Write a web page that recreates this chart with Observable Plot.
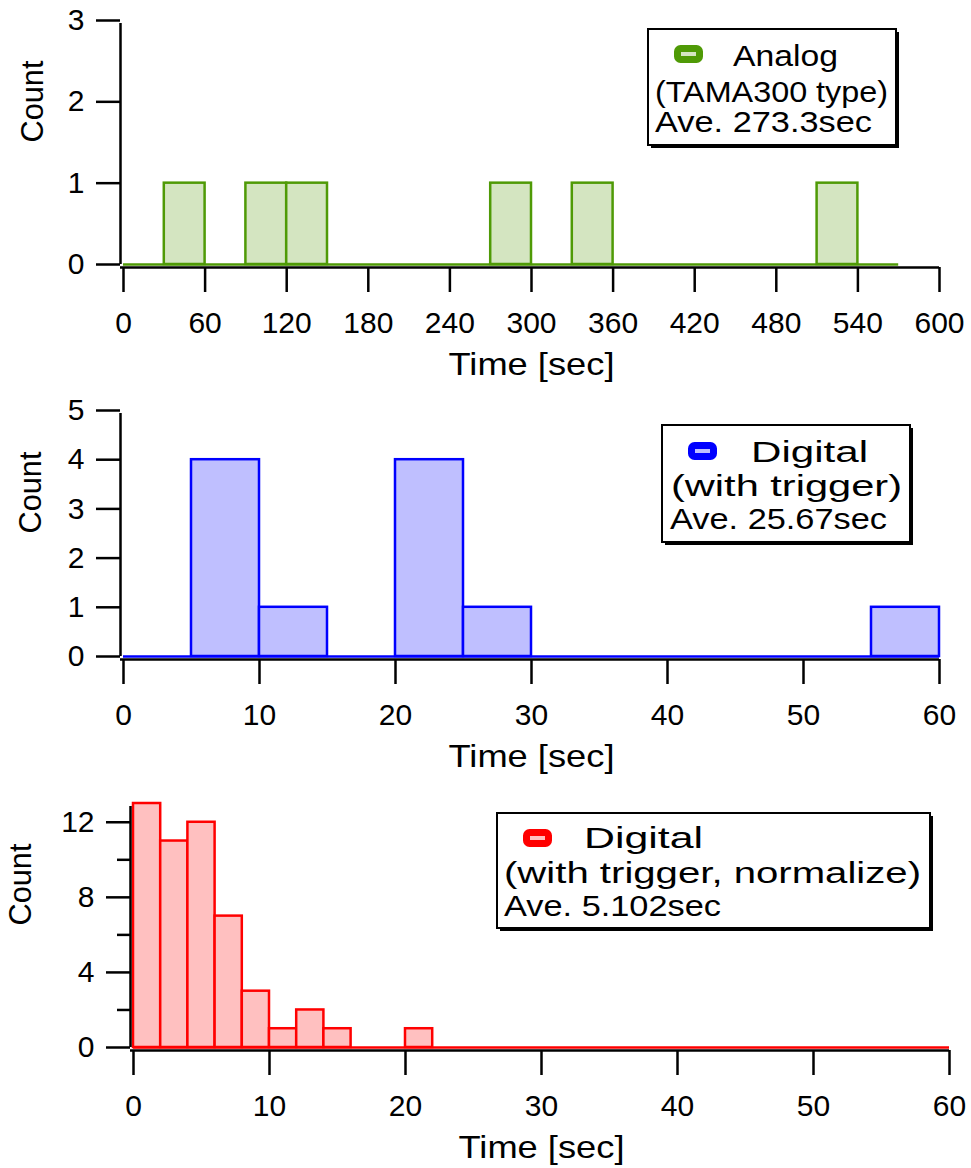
<!DOCTYPE html>
<html><head><meta charset="utf-8">
<script src="https://cdn.jsdelivr.net/npm/d3@7"></script>
<script src="https://cdn.jsdelivr.net/npm/@observablehq/plot@0.6"></script>
<style>
body{margin:0;background:#fff;}
#wrap{position:relative;width:971px;height:1168px;overflow:hidden;}
#wrap svg{display:block;}
#legend{position:absolute;left:0;top:0;}
</style></head><body><div id="wrap"></div>
<script>
// ---------- DATA ----------
// Panel 1: Analog (TAMA300 type), bins of 30 s
const analogEdges  = [0,30,60,90,120,150,180,210,240,270,300,330,360,390,420,450,480,510,540,570];
const analogCounts = [0,1,0,1,1,0,0,0,0,1,0,1,0,0,0,0,0,1,0];
const analogXTicks = [0,60,120,180,240,300,360,420,480,540,600];
const analogYTicks = [0,1,2,3];
const analogLegend = ["Analog","(TAMA300 type)","Ave. 273.3sec"];

// Panel 2: Digital (with trigger), bins of 5 s
const digitalEdges  = [0,5,10,15,20,25,30,35,40,45,50,55,60];
const digitalCounts = [0,4,1,0,4,1,0,0,0,0,0,1];
const digitalXTicks = [0,10,20,30,40,50,60];
const digitalYTicks = [0,1,2,3,4,5];
const digitalLegend = ["Digital","(with trigger)","Ave. 25.67sec"];

// Panel 3: Digital (with trigger, normalize), bins of 2 s
const normEdges  = [0,2,4,6,8,10,12,14,16,18,20,22,24,26,28,30,32,34,36,38,40,42,44,46,48,50,52,54,56,58,60];
const normCounts = [13,11,12,7,3,1,2,1,0,0,1,0,0,0,0,0,0,0,0,0,0,0,0,0,0,0,0,0,0,0];
const normXTicks = [0,10,20,30,40,50,60];
const normYTicks = [0,4,8,12];
const normYMinor = [2,6,10];
const normLegend = ["Digital","(with trigger, normalize)","Ave. 5.102sec"];

const xLabel = "Time [sec]";
const yLabel = "Count";

// ---------- DRAW ----------
const FONT = "'Liberation Sans', Arial, Helvetica, sans-serif";
const wrap = document.getElementById("wrap");

function panel(o) {
  const rows = o.counts.map((c, i) => ({x1: o.edges[i], x2: o.edges[i + 1], c})).filter(d => d.c > 0);
  const marks = [
    Plot.ruleY([0], {x1: o.edges[0], x2: o.edges[o.edges.length - 1], stroke: o.stroke, strokeWidth: 2.5}),
    Plot.rectY(rows, {x1: "x1", x2: "x2", y1: 0, y2: "c", fill: o.fill, stroke: o.stroke, strokeWidth: 2.5}),
    Plot.ruleX([o.xDomain[0]], {y1: o.yDomain[0], y2: o.yDomain[1], dx: -3, insetBottom: -3, strokeWidth: 2.5}),
    Plot.ruleY([o.yDomain[0]], {x1: o.xDomain[0], x2: o.xDomain[1], dy: 3, insetLeft: -3, strokeWidth: 2.5}),
    Plot.axisX({ticks: o.xTicks, tickSize: 25, tickPadding: 19, dy: 3, strokeWidth: 2.5, label: null, tickFormat: d => String(d)}),
    Plot.axisY({ticks: o.yTicks, tickSize: 24, tickPadding: 12, dx: -3, strokeWidth: 2.5, label: null, tickFormat: d => String(d)}),
    Plot.text([xLabel], {frameAnchor: "bottom", dy: 100, fontSize: 32, lineAnchor: "middle", text: d => d}),
    Plot.text([yLabel], {frameAnchor: "left", dx: o.countDx, rotate: -90, fontSize: 32, lineAnchor: "middle", text: d => d})
  ];
  if (o.yMinor) marks.push(Plot.axisY({ticks: o.yMinor, tickSize: 13, dx: -3, strokeWidth: 2.5, label: null, tickFormat: () => ""}));
  const svg = Plot.plot({
    width: 971, height: o.height,
    marginTop: o.mt, marginBottom: o.mb, marginLeft: o.ml, marginRight: o.mr,
    style: {fontFamily: FONT, fontSize: "30px", background: "transparent", overflow: "visible", color: "#000"},
    x: {domain: o.xDomain},
    y: {domain: o.yDomain},
    marks
  });
  d3.select(svg).selectAll("text").filter(function () { return this.textContent === xLabel; })
    .attr("textLength", 166).attr("lengthAdjust", "spacingAndGlyphs");
  d3.select(svg).selectAll("text").filter(function () { return this.textContent === yLabel; })
    .attr("textLength", 82).attr("lengthAdjust", "spacingAndGlyphs");
  return svg;
}

wrap.appendChild(panel({edges: analogEdges, counts: analogCounts, stroke: "#4f9a06", fill: "#d4e5c1",
  xDomain: [0, 600], yDomain: [0, 3], xTicks: analogXTicks, yTicks: analogYTicks,
  height: 390, mt: 20, mb: 126, ml: 123, mr: 32, countDx: -91}));
wrap.appendChild(panel({edges: digitalEdges, counts: digitalCounts, stroke: "#0000ff", fill: "#bfbfff",
  xDomain: [0, 60], yDomain: [0, 5], xTicks: digitalXTicks, yTicks: digitalYTicks,
  height: 390, mt: 20, mb: 124, ml: 123, mr: 32, countDx: -93}));
wrap.appendChild(panel({edges: normEdges, counts: normCounts, stroke: "#ff0000", fill: "#ffc0c0",
  xDomain: [0, 60], yDomain: [0, 13], xTicks: normXTicks, yTicks: normYTicks, yMinor: normYMinor,
  height: 388, mt: 23, mb: 121, ml: 133, mr: 22, countDx: -113}));

// ---------- LEGENDS (overlay) ----------
const legendSpecs = [
  {texts: analogLegend, stroke: "#4f9a06", fill: "#d4e5c1", box: [648, 29, 248, 116], sw: [674, 45],
   pos: [[733, 66, 105], [655, 102, 233], [655, 132, 217]]},
  {texts: digitalLegend, stroke: "#0000ff", fill: "#bfbfff", box: [662, 425, 248, 117], sw: [688, 442],
   pos: [[751, 462, 117], [671, 496, 231], [670, 529, 217]]},
  {texts: normLegend, stroke: "#ff0000", fill: "#ffc0c0", box: [497, 813, 433, 115], sw: [523, 829],
   pos: [[584, 848, 119], [504, 883, 417], [504, 916, 217]]}
];
const ov = d3.select(wrap).append("svg").attr("id", "legend").attr("width", 971).attr("height", 1168)
  .style("font-family", FONT);
for (const L of legendSpecs) {
  const [bx, by, bw, bh] = L.box;
  ov.append("rect").attr("x", bx + 3).attr("y", by + 3).attr("width", bw).attr("height", bh).attr("fill", "#000");
  ov.append("rect").attr("x", bx).attr("y", by).attr("width", bw).attr("height", bh)
    .attr("fill", "#fff").attr("stroke", "#000").attr("stroke-width", 2);
  const [sx, sy] = L.sw;
  ov.append("rect").attr("x", sx + 3.5).attr("y", sy + 3.5).attr("width", 22).attr("height", 11).attr("rx", 3)
    .attr("fill", L.fill).attr("stroke", L.stroke).attr("stroke-width", 7);
  L.texts.forEach((t, i) => {
    const [tx, ty, tw] = L.pos[i];
    ov.append("text").attr("x", tx).attr("y", ty).attr("font-size", 29).attr("fill", "#000")
      .attr("textLength", tw).attr("lengthAdjust", "spacingAndGlyphs").text(t);
  });
}
</script></body></html>
